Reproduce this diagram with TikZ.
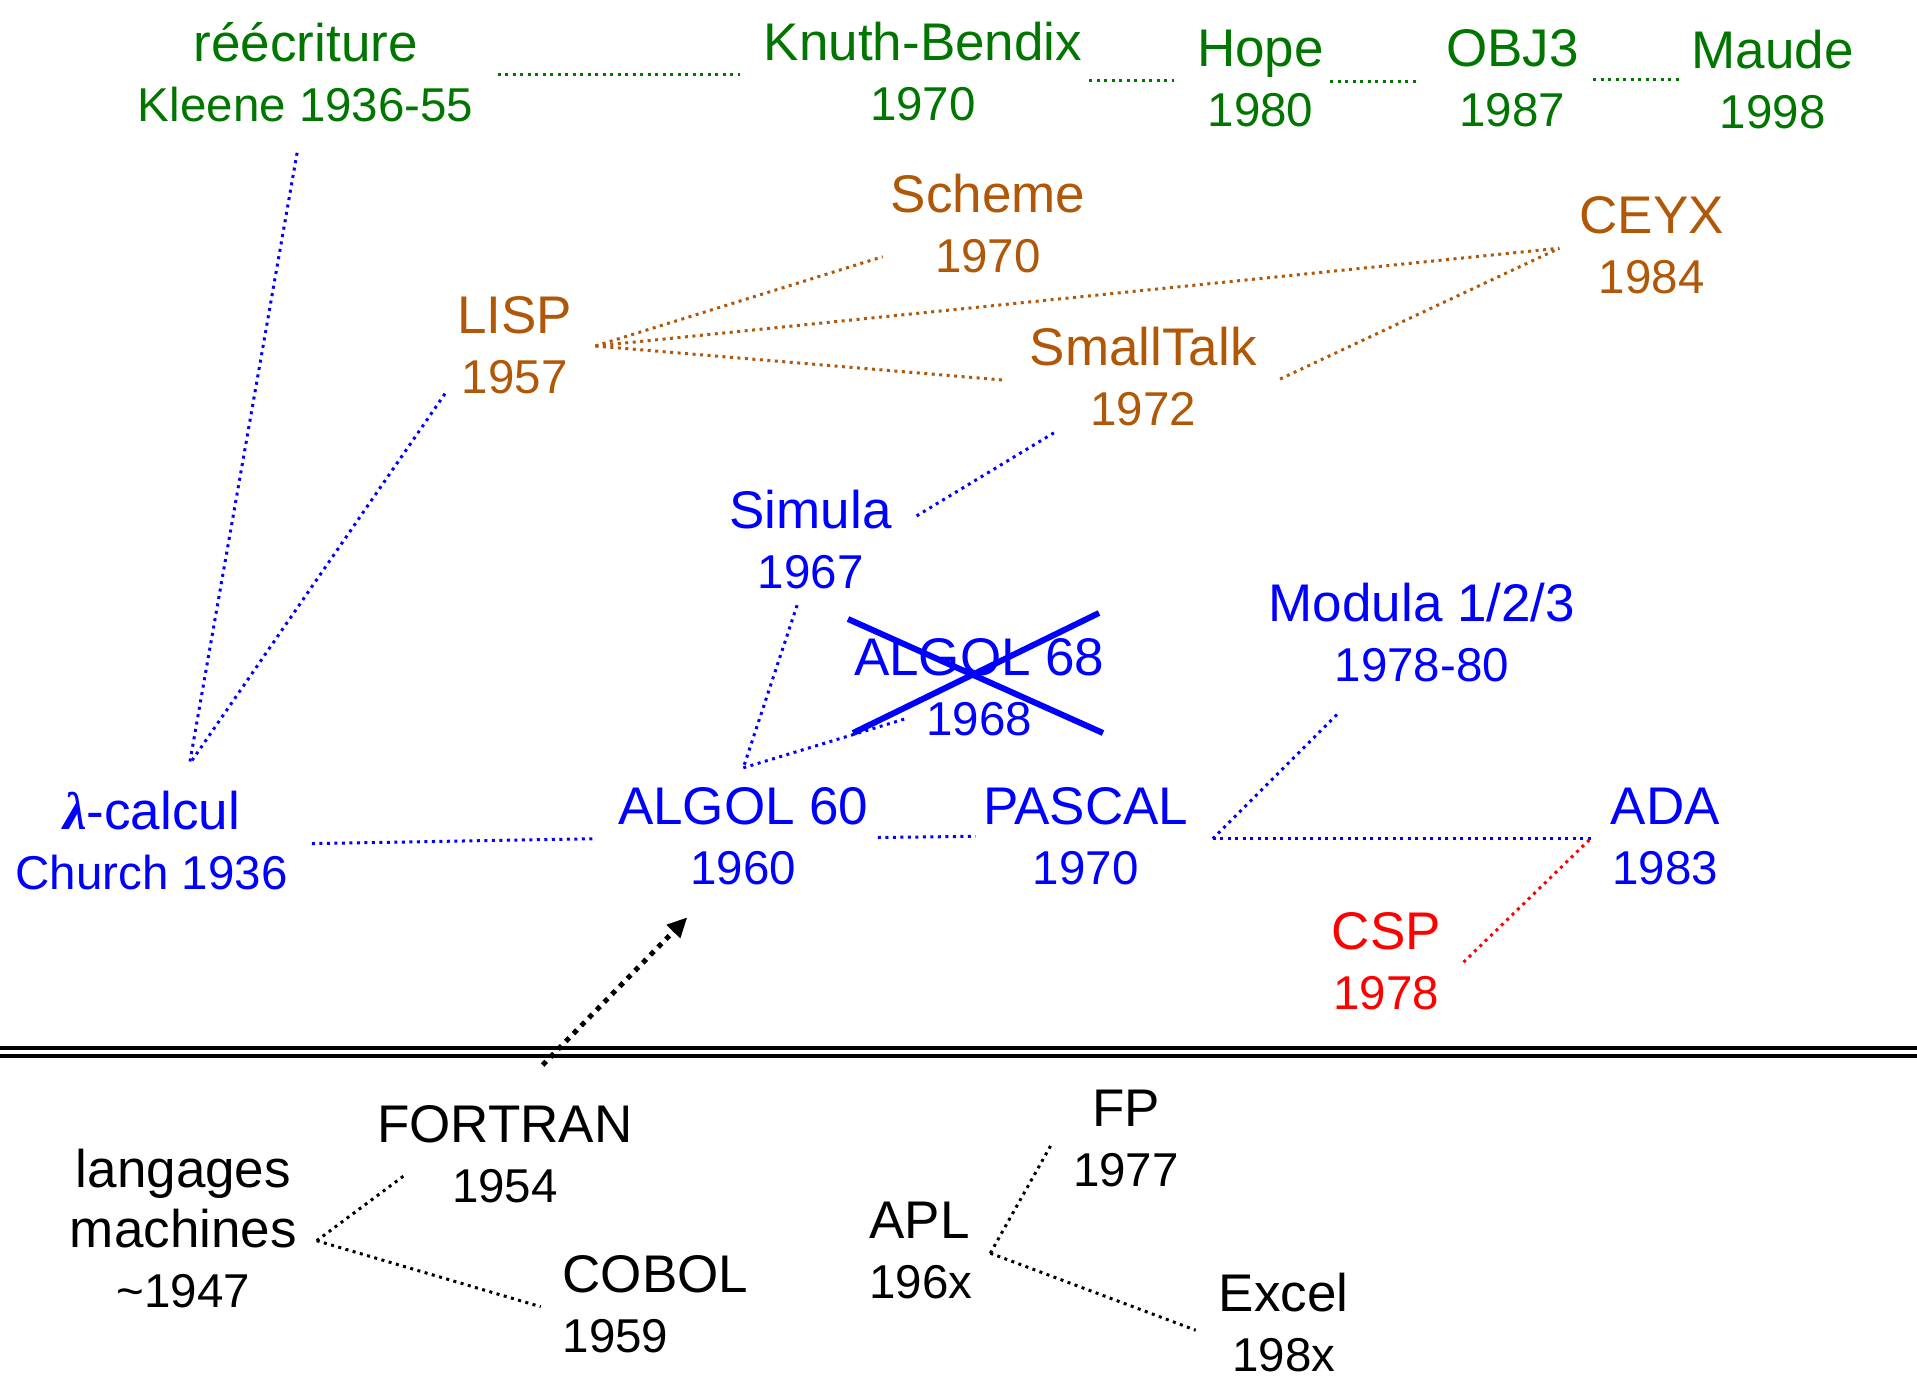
\documentclass[tikz,border=0pt]{standalone}
\usepackage{fontspec}
\setmainfont{Liberation Sans}
\newfontfamily\lamfont{Liberation Serif}
\usetikzlibrary{arrows.meta}
\definecolor{rwgreen}{RGB}{0,118,0}
\definecolor{lspbrown}{RGB}{176,88,8}
\definecolor{algblue}{RGB}{0,0,255}
\definecolor{cspred}{RGB}{255,0,0}
\tikzset{
  lang/.style={align=center, inner sep=0pt, font=\fontsize{53}{60}\selectfont},
  langl/.style={lang, align=left},
  link/.style={line width=3pt, dash pattern=on 3pt off 4.5pt},
  cross/.style={algblue, line width=6pt},
}
% second lines (dates) are set a little smaller
\newcommand{\yr}[1]{{\fontsize{47.5}{60}\selectfont #1}}
\begin{document}
\begin{tikzpicture}[x=1pt, y=-1pt]
\useasboundingbox (0,0) rectangle (1917,1382);

% --- rewriting family (green)
\node[lang, rwgreen] (rew)   at (305.7,72) {réécriture\\\yr{Kleene 1936-55}};
\node[lang, rwgreen] (knuth) at (923,72)   {Knuth-Bendix\\\yr{1970}};
\node[lang, rwgreen] (hope)  at (1260.5,78) {Hope\\\yr{1980}};
\node[lang, rwgreen] (obj)   at (1512.3,78) {OBJ3\\\yr{1987}};
\node[lang, rwgreen] (maude) at (1772.8,80) {Maude\\\yr{1998}};

% --- LISP family (brown)
\node[lang, lspbrown] (scheme) at (987.9,224)  {Scheme\\\yr{1970}};
\node[lang, lspbrown] (ceyx)   at (1651.7,245) {CEYX\\\yr{1984}};
\node[lang, lspbrown] (lisp)   at (514.7,345)  {LISP\\\yr{1957}};
\node[lang, lspbrown] (small)  at (1143.1,377) {SmallTalk\\\yr{1972}};

% --- ALGOL family (blue)
\node[lang, algblue] (simula) at (810.6,540)  {Simula\\\yr{1967}};
\node[lang, algblue] (modula) at (1421.9,633) {Modula 1/2/3\\\yr{1978-80}};
\node[lang, algblue] (alg68)  at (979.3,687)  {ALGOL 68\\\yr{1968}};
\node[lang, algblue] (lambda) at (151.6,841)  {{\lamfont\bfseries\itshape λ}-calcul\\\yr{Church 1936}};
\node[lang, algblue] (alg60)  at (743.3,836)  {ALGOL 60\\\yr{1960}};
\node[lang, algblue] (pascal) at (1085.7,836) {PASCAL\\\yr{1970}};
\node[lang, algblue] (ada)    at (1665.2,836) {ADA\\\yr{1983}};
\node[lang, cspred]  (csp)    at (1386.4,961) {CSP\\\yr{1978}};

% --- lower part (black)
\node[lang]  (fortran)  at (504.9,1154)  {FORTRAN\\\yr{1954}};
\node[lang]  (machines) at (183.4,1229)  {langages\\machines\\\yr{\textasciitilde1947}};
\node[langl, anchor=west] (cobol) at (562.4,1304) {COBOL\\\yr{1959}};
\node[lang]  (fp)       at (1126,1138)   {FP\\\yr{1977}};
\node[langl, anchor=west] (apl) at (869.3,1250) {APL\\\yr{196x}};
\node[lang]  (excel)    at (1283.7,1323) {Excel\\\yr{198x}};

% --- connector end points
\coordinate (rewE)   at (497.6,74.6);
\coordinate (knuthW) at (739.7,74.6);
\coordinate (knuthE) at (1089.3,80.7);
\coordinate (hopeW)  at (1173.7,80.7);
\coordinate (hopeE)  at (1330.1,81.9);
\coordinate (objW)   at (1415.8,81.9);
\coordinate (objE)   at (1593,79.5);
\coordinate (maudeW) at (1679.8,79.5);
\coordinate (rewS)   at (297.1,152.8);
\coordinate (lamN)   at (189.5,764.1);
\coordinate (lispSW) at (445,393.7);
\coordinate (lispE)  at (595.4,346);
\coordinate (schemeW) at (882.7,256.7);
\coordinate (ceyxW)  at (1559.3,248.2);
\coordinate (smallW) at (1005,380.2);
\coordinate (smallE) at (1280.1,379);
\coordinate (smallS) at (1053.9,432.8);
\coordinate (simE)   at (914.5,517.2);
\coordinate (simS)   at (797.1,605.2);
\coordinate (a60N)   at (743.3,767.8);
\coordinate (a68W)   at (908,718);
\coordinate (lamE)   at (311.8,843.6);
\coordinate (a60W)   at (595.4,838.7);
\coordinate (a60E)   at (877.8,837.5);
\coordinate (pasW)   at (975.6,836.3);
\coordinate (pasE)   at (1212.8,838.7);
\coordinate (modS)   at (1338.7,712.8);
\coordinate (adaW)   at (1590.5,838.7);
\coordinate (cspE)   at (1463.5,962.2);
\coordinate (fortS)  at (542.7,1065);
\coordinate (a60S)   at (687.3,917.3);
\coordinate (macE)   at (316.7,1240.7);
\coordinate (fortW)  at (403.5,1176.1);
\coordinate (cobW)   at (540.7,1306.7);
\coordinate (aplE)   at (990.3,1253.2);
\coordinate (fpW)    at (1051.4,1144.4);
\coordinate (excW)   at (1195.7,1330.2);

% rewriting chain
\draw[link, rwgreen] (rewE) -- (knuthW);
\draw[link, rwgreen] (knuthE) -- (hopeW);
\draw[link, rwgreen] (hopeE) -- (objW);
\draw[link, rwgreen] (objE) -- (maudeW);

% links to the lambda calculus
\draw[link, algblue] (rewS) -- (lamN);
\draw[link, algblue] (lispSW) -- (lamN);

% LISP descendants
\draw[link, lspbrown] (lispE) -- (schemeW);
\draw[link, lspbrown] (lispE) -- (ceyxW);
\draw[link, lspbrown] (lispE) -- (smallW);
\draw[link, lspbrown] (smallE) -- (ceyxW);

% ALGOL descendants
\draw[link, algblue] (smallS) -- (simE);
\draw[link, algblue] (simS) -- (a60N);
\draw[link, algblue] (a60N) -- (a68W);
\draw[link, algblue] (lamE) -- (a60W);
\draw[link, algblue] (a60E) -- (pasW);
\draw[link, algblue] (pasE) -- (modS);
\draw[link, algblue] (pasE) -- (adaW);
\draw[link, cspred] (cspE) -- (adaW);

% ALGOL 68 crossed out
\draw[cross] (848,619) -- (1103,733);
\draw[cross] (853,733) -- (1099,613);

% separator
\draw[line width=4pt] (0,1048.3) -- (1917,1048.3);
\draw[line width=4pt] (0,1056.3) -- (1917,1056.3);

% FORTRAN influence on ALGOL 60
\draw[line width=5pt, dash pattern=on 5pt off 6pt, -{Triangle[length=20pt,width=18pt]}] (fortS) -- (a60S);

% lower links
\draw[link] (macE) -- (fortW);
\draw[link] (macE) -- (cobW);
\draw[link] (aplE) -- (fpW);
\draw[link] (aplE) -- (excW);
\end{tikzpicture}
\end{document}
